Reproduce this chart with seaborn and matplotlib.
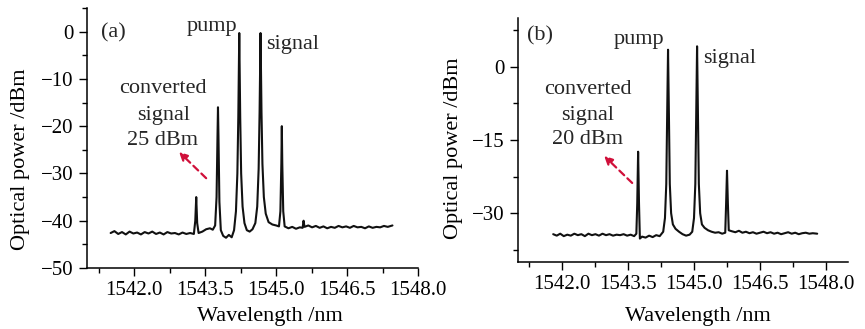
import pandas as pd
import matplotlib.pyplot as plt
import matplotlib.ticker as mticker
import seaborn as sns

# ---- spectrum (a) ----
wl_a = [1541.50, 1541.58, 1541.66, 1541.74, 1541.82, 1541.90, 1541.98, 1542.06,
        1542.14, 1542.22, 1542.30, 1542.38, 1542.46, 1542.54, 1542.62, 1542.70,
        1542.78, 1542.86, 1542.94, 1543.02, 1543.10, 1543.18, 1543.26, 1543.29,
        1543.31, 1543.33, 1543.36, 1543.44, 1543.52, 1543.60, 1543.66, 1543.71,
        1543.74, 1543.76, 1543.77, 1543.78, 1543.80, 1543.83, 1543.88, 1543.94,
        1544.00, 1544.06, 1544.11, 1544.15, 1544.18, 1544.20, 1544.22, 1544.24,
        1544.26, 1544.29, 1544.33, 1544.38, 1544.44, 1544.50, 1544.56, 1544.60,
        1544.63, 1544.65, 1544.67, 1544.69, 1544.71, 1544.74, 1544.78, 1544.84,
        1544.92, 1545.00, 1545.06, 1545.09, 1545.11, 1545.12, 1545.13, 1545.15,
        1545.18, 1545.26, 1545.34, 1545.42, 1545.50, 1545.56, 1545.58, 1545.60,
        1545.68, 1545.76, 1545.84, 1545.92, 1546.00, 1546.08, 1546.16, 1546.24,
        1546.32, 1546.40, 1546.48, 1546.56, 1546.64, 1546.72, 1546.80, 1546.88,
        1546.96, 1547.04, 1547.12, 1547.20, 1547.28, 1547.36, 1547.46]
pw_a = [-42.6, -42.2, -42.8, -42.4, -42.9, -42.3, -42.7, -42.5,
        -42.9, -42.4, -42.7, -42.3, -42.8, -42.5, -42.9, -42.4,
        -42.7, -42.6, -42.9, -42.5, -42.8, -42.6, -42.8, -40.0,
        -35.0, -40.5, -42.6, -42.3, -41.8, -41.6, -41.9, -41.0,
        -35.0, -22.0, -16.0, -22.0, -36.0, -42.0, -43.2, -43.6,
        -43.0, -43.5, -42.0, -38.0, -30.0, -18.0, -0.3, -18.0,
        -30.0, -37.0, -40.5, -42.0, -42.3, -41.8, -40.5, -37.0,
        -29.0, -17.0, -0.3, -17.0, -28.0, -35.0, -38.5, -40.3,
        -40.8, -41.0, -41.2, -38.0, -28.0, -20.0, -28.0, -38.0,
        -41.2, -41.6, -41.3, -41.7, -41.4, -41.5, -40.0, -41.3,
        -41.0, -41.4, -41.1, -41.5, -41.2, -41.6, -41.3, -41.5,
        -41.1, -41.4, -41.2, -41.5, -41.1, -41.4, -41.3, -41.6,
        -41.2, -41.5, -41.3, -41.4, -41.1, -41.3, -41.0]

# ---- spectrum (b) ----
wl_b = [1541.80, 1541.88, 1541.96, 1542.04, 1542.12, 1542.20, 1542.28, 1542.36,
        1542.44, 1542.52, 1542.60, 1542.68, 1542.76, 1542.84, 1542.92, 1543.00,
        1543.08, 1543.16, 1543.24, 1543.32, 1543.40, 1543.48, 1543.56, 1543.64,
        1543.69, 1543.71, 1543.73, 1543.75, 1543.77, 1543.82, 1543.90, 1543.98,
        1544.06, 1544.14, 1544.22, 1544.30, 1544.34, 1544.37, 1544.39, 1544.41,
        1544.43, 1544.45, 1544.48, 1544.52, 1544.58, 1544.66, 1544.74, 1544.82,
        1544.90, 1544.96, 1545.00, 1545.03, 1545.05, 1545.07, 1545.09, 1545.11,
        1545.14, 1545.18, 1545.24, 1545.32, 1545.40, 1545.48, 1545.56, 1545.64,
        1545.71, 1545.73, 1545.75, 1545.77, 1545.79, 1545.86, 1545.94, 1546.02,
        1546.10, 1546.18, 1546.26, 1546.34, 1546.42, 1546.50, 1546.58, 1546.66,
        1546.74, 1546.82, 1546.90, 1546.98, 1547.06, 1547.14, 1547.22, 1547.30,
        1547.38, 1547.46, 1547.54, 1547.62, 1547.70, 1547.80]
pw_b = [-34.3, -34.6, -34.2, -34.7, -34.4, -34.6, -34.2, -34.5,
        -34.3, -34.7, -34.2, -34.5, -34.3, -34.6, -34.2, -34.5,
        -34.3, -34.6, -34.4, -34.5, -34.3, -34.6, -34.4, -34.7,
        -34.2, -28.0, -17.4, -28.0, -35.2, -34.8, -35.0, -34.6,
        -34.9, -34.5, -34.7, -33.8, -31.0, -24.0, -10.0, 3.5,
        -10.0, -24.0, -30.0, -32.3, -33.2, -33.8, -34.3, -34.6,
        -34.4, -33.8, -31.0, -24.0, -10.0, 4.2, -10.0, -24.0,
        -30.0, -32.3, -33.0, -33.5, -33.8, -34.0, -33.9, -34.2,
        -34.0, -28.0, -21.3, -28.0, -33.5, -33.7, -33.9, -33.6,
        -34.0, -33.8, -34.1, -33.9, -34.2, -34.0, -33.8, -34.1,
        -33.9, -34.2, -34.0, -34.3, -34.1, -33.9, -34.2, -34.0,
        -34.3, -34.1, -34.0, -34.2, -34.1, -34.2]

df_a = pd.DataFrame({"wl": wl_a, "pw": pw_a})
df_b = pd.DataFrame({"wl": wl_b, "pw": pw_b})

sns.set_theme(style="ticks")
plt.rcParams['font.family'] = ['Liberation Serif', 'DejaVu Serif']

fig = plt.figure(figsize=(8.65, 3.29), dpi=100)
ax1 = fig.add_axes([87 / 865, 61 / 329, 331 / 865, 260 / 329])
ax2 = fig.add_axes([518 / 865, 67 / 329, 330 / 865, 244 / 329])

red = "#d0103a"
minus_fmt = mticker.FuncFormatter(lambda v, p: f"{v:g}".replace("-", "\u2212"))

def style_axis(ax, ylim, ymaj, ymin, xmax):
    ax.set_xlim(1541.0, xmax)
    ax.set_ylim(*ylim)
    ax.xaxis.set_major_locator(mticker.MultipleLocator(1.5))
    ax.xaxis.set_minor_locator(mticker.MultipleLocator(0.75))
    ax.xaxis.set_major_formatter(mticker.FormatStrFormatter('%.1f'))
    ax.yaxis.set_major_locator(mticker.MultipleLocator(ymaj))
    ax.yaxis.set_minor_locator(mticker.MultipleLocator(ymin))
    ax.yaxis.set_major_formatter(minus_fmt)
    ax.tick_params(which='major', direction='out', length=6, width=1.0,
                   labelsize=15, color='black', labelcolor='black')
    ax.tick_params(which='minor', direction='out', length=3.5, width=1.0,
                   color='black')
    for s in ['top', 'right']:
        ax.spines[s].set_visible(False)
    for s in ['left', 'bottom']:
        ax.spines[s].set_linewidth(1.1)
        ax.spines[s].set_color('black')
    ax.set_xlabel('Wavelength /nm', fontsize=16, color='black')
    ax.set_ylabel('Optical power /dBm', fontsize=16, color='black')

sns.lineplot(data=df_a, x="wl", y="pw", ax=ax1, color="#111111", lw=1.5, sort=False)
sns.lineplot(data=df_b, x="wl", y="pw", ax=ax2, color="#111111", lw=1.5, sort=False)

style_axis(ax1, (-50, 5), 10, 5, 1548.0)
style_axis(ax2, (-40, 10), 15, 7.5, 1548.5)

ax1.xaxis.set_label_coords(0.553, -0.15)
ax1.yaxis.set_label_coords(-0.172, 0.42)
ax2.xaxis.set_label_coords(0.545, -0.184)
ax2.yaxis.set_label_coords(-0.167, 0.467)

fs = 16
# panel (a) labels
ax1.text(0.079, 0.904, "(a)", transform=ax1.transAxes, ha='center', va='center', fontsize=fs)
ax1.text(0.378, 0.927, "pump", transform=ax1.transAxes, ha='center', va='center', fontsize=fs)
ax1.text(0.622, 0.858, "signal", transform=ax1.transAxes, ha='center', va='center', fontsize=fs)
ax1.text(0.230, 0.692, "converted", transform=ax1.transAxes, ha='center', va='center', fontsize=fs)
ax1.text(0.230, 0.588, "signal", transform=ax1.transAxes, ha='center', va='center', fontsize=fs)
ax1.text(0.228, 0.492, "25 dBm", transform=ax1.transAxes, ha='center', va='center', fontsize=fs)
ax1.annotate("", xy=(0.272, 0.454), xytext=(0.366, 0.338), xycoords='axes fraction',
             arrowprops=dict(arrowstyle='-|>', color=red, lw=1.6, linestyle=(0, (3, 2)),
                             mutation_scale=12))

# panel (b) labels
ax2.text(0.067, 0.926, "(b)", transform=ax2.transAxes, ha='center', va='center', fontsize=fs)
ax2.text(0.367, 0.910, "pump", transform=ax2.transAxes, ha='center', va='center', fontsize=fs)
ax2.text(0.640, 0.836, "signal", transform=ax2.transAxes, ha='center', va='center', fontsize=fs)
ax2.text(0.212, 0.709, "converted", transform=ax2.transAxes, ha='center', va='center', fontsize=fs)
ax2.text(0.212, 0.602, "signal", transform=ax2.transAxes, ha='center', va='center', fontsize=fs)
ax2.text(0.212, 0.500, "20 dBm", transform=ax2.transAxes, ha='center', va='center', fontsize=fs)
ax2.annotate("", xy=(0.255, 0.443), xytext=(0.352, 0.316), xycoords='axes fraction',
             arrowprops=dict(arrowstyle='-|>', color=red, lw=1.6, linestyle=(0, (3, 2)),
                             mutation_scale=12))

fig.savefig("out.png", dpi=100, facecolor='white')
